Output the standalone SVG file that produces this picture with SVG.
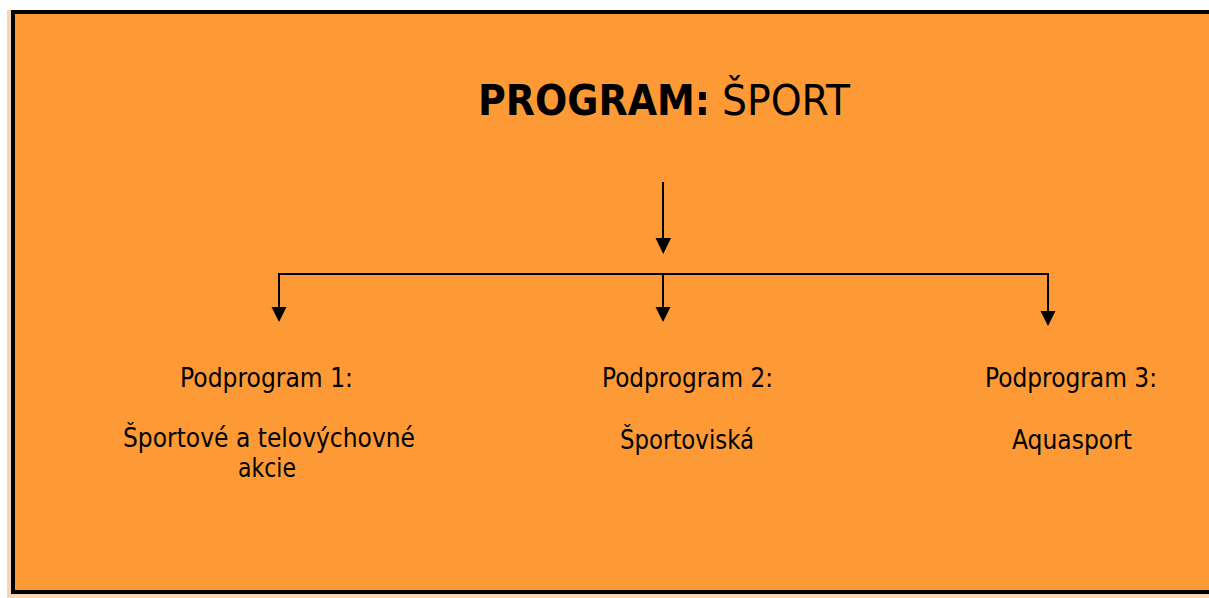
<svg xmlns="http://www.w3.org/2000/svg" width="1209" height="598" viewBox="0 0 1209 598">
<style>
  text { font-family: "DejaVu Sans", Verdana, sans-serif; fill: #000; }
  .t { font-size: 26px; }
  .c { stroke: #000; stroke-width: 2; fill: none; }
  .h { fill: #000; }
</style>
<rect x="0" y="0" width="1209" height="598" fill="#fff"/>
<rect x="7" y="10" width="1210" height="588" fill="#F9D5B0"/>
<rect id="frame" x="13" y="12" width="1240" height="580" fill="#FE9A35" stroke="#000" stroke-width="4"/>
<g id="title">
  <text x="478" y="115" font-size="42" font-weight="bold" textLength="232" lengthAdjust="spacingAndGlyphs">PROGRAM:</text>
  <text x="722" y="115" font-size="42" textLength="128" lengthAdjust="spacingAndGlyphs">ŠPORT</text>
</g>
<g id="connectors">
  <line class="c" x1="663" y1="182" x2="663" y2="239"/>
  <path class="h" d="M655.5,238 L671,238 L663.25,254 Z"/>
  <polyline class="c" points="279,308 279,274 1048,274 1048,312"/>
  <line class="c" x1="663" y1="274" x2="663" y2="308"/>
  <path class="h" d="M271.5,307 L286.5,307 L279,322 Z"/>
  <path class="h" d="M655.5,307 L670.5,307 L663,322 Z"/>
  <path class="h" d="M1040.5,311 L1055.5,311 L1048,326 Z"/>
</g>
<g id="node1">
  <text class="t" x="180" y="387" textLength="173" lengthAdjust="spacingAndGlyphs">Podprogram 1:</text>
  <text class="t" x="123" y="447" textLength="292" lengthAdjust="spacingAndGlyphs">Športové a telovýchovné</text>
  <text class="t" x="238" y="477" textLength="58" lengthAdjust="spacingAndGlyphs">akcie</text>
</g>
<g id="node2">
  <text class="t" x="602" y="387" textLength="171" lengthAdjust="spacingAndGlyphs">Podprogram 2:</text>
  <text class="t" x="620" y="449" textLength="134" lengthAdjust="spacingAndGlyphs">Športoviská</text>
</g>
<g id="node3">
  <text class="t" x="985" y="387" textLength="172" lengthAdjust="spacingAndGlyphs">Podprogram 3:</text>
  <text class="t" x="1012" y="449" textLength="120" lengthAdjust="spacingAndGlyphs">Aquasport</text>
</g>
</svg>
